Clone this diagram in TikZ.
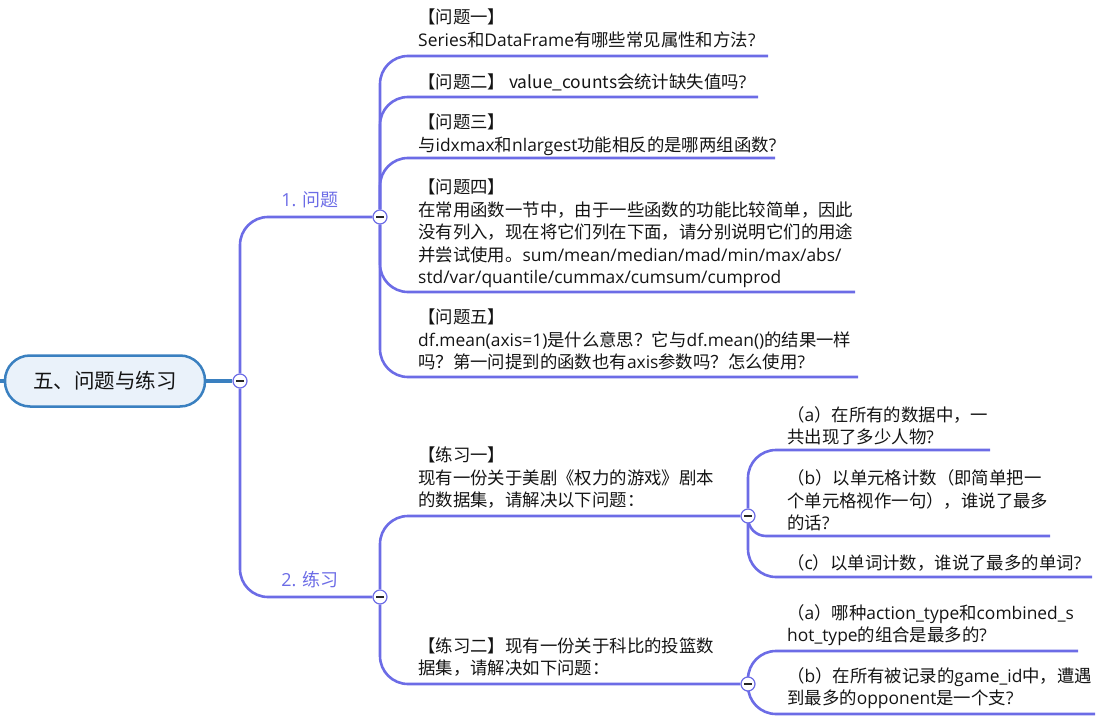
\documentclass[tikz,border=0pt]{standalone}
\usepackage{fontspec}
\setmainfont{Open Sans}
\newfontfamily\cjkf{Noto Sans CJK SC}
\newfontfamily\latf{Open Sans}
\usetikzlibrary{backgrounds}
\XeTeXinterchartokenstate=1
\newXeTeXintercharclass\cjkclass
\count255="3000
\loop \XeTeXcharclass\count255=\cjkclass \ifnum\count255<"9FFF \advance\count255 by 1 \repeat
\count255="FF00
\loop \XeTeXcharclass\count255=\cjkclass \ifnum\count255<"FFEF \advance\count255 by 1 \repeat
\XeTeXinterchartoks 0 \cjkclass = {\cjkf}
\XeTeXinterchartoks 4095 \cjkclass = {\cjkf}
\XeTeXinterchartoks \cjkclass 0 = {\latf}
\definecolor{brc}{RGB}{108,108,230}
\definecolor{rootb}{RGB}{58,128,192}
\definecolor{rootf}{RGB}{234,242,250}
\definecolor{txtc}{RGB}{20,20,20}
\begin{document}
\begin{tikzpicture}[x=1pt,y=-1pt,
  br/.style={draw=brc, line width=2.6pt, rounded corners=28pt},
  rootline/.style={draw=rootb, line width=3.5pt},
  txt/.style={anchor=base west, inner sep=0pt, align=left, text=txtc,
    font=\fontsize{17.4}{22.5}\selectfont},
  lbl/.style={anchor=base, inner sep=0pt, text=brc, font=\fontsize{18}{22}\selectfont},
  tog/.style={circle, draw=brc, fill=white, line width=1.2pt, minimum size=14pt, inner sep=0pt,
    path picture={\draw[line width=1.4pt, black!85] ([xshift=-3.6pt]path picture bounding box.center) -- ([xshift=3.6pt]path picture bounding box.center);}},
  rootbox/.style={draw=rootb, fill=rootf, line width=2.5pt, rounded corners=25pt,
    minimum width=200pt, minimum height=51pt, inner sep=0pt, text=txtc,
    font=\fontsize{20.5}{24}\selectfont}]
\useasboundingbox (0,0) rectangle (1105,722);

% root
\node[rootbox] (root) at (105,381) {五、问题与练习};
\coordinate (lft) at (0,381);

% toggles
\node[tog] (rc) at (240,381) {};
\node[tog] (qc) at (380,217) {};
\node[tog] (xc) at (380,597) {};
\node[tog] (e1) at (748,516) {};
\node[tog] (e2) at (748,684) {};

% labels
\node[lbl] (l1) at (310,206.5) {1. 问题};
\node[lbl] (l2) at (310,586.5) {2. 练习};

% question texts (anchor = baseline of last line)
\node[txt] (t1) at (418,46.5) {【问题一】\\Series和DataFrame有哪些常见属性和方法?};
\node[txt] (t2) at (418,88.5) {【问题二】 value\_counts会统计缺失值吗?};
\node[txt] (t3) at (418,151.5) {【问题三】\\与idxmax和nlargest功能相反的是哪两组函数?};
\node[txt] (t4) at (418,283.5) {【问题四】\\在常用函数一节中，由于一些函数的功能比较简单，因此\\没有列入，现在将它们列在下面，请分别说明它们的用途\\并尝试使用。sum/mean/median/mad/min/max/abs/\\std/var/quantile/cummax/cumsum/cumprod};
\node[txt] (t5) at (418,368.5) {【问题五】\\df.mean(axis=1)是什么意思？它与df.mean()的结果一样\\吗？第一问提到的函数也有axis参数吗？怎么使用?};

% exercise texts
\node[txt] (x1) at (418,506.5) {【练习一】\\现有一份关于美剧《权力的游戏》剧本\\的数据集，请解决以下问题：};
\node[txt] (x2) at (418,674.5) {【练习二】现有一份关于科比的投篮数\\据集，请解决如下问题：};

\node[txt] (a1t) at (787,443.5) {（a）在所有的数据中，一\\共出现了多少人物?};
\node[txt] (b1t) at (787,529.5) {（b）以单元格计数（即简单把一\\个单元格视作一句），谁说了最多\\的话?};
\node[txt] (c1t) at (787,569.5) {（c）以单词计数，谁说了最多的单词?};
\node[txt] (a2t) at (787,641.5) {（a）哪种action\_type和combined\_s\\hot\_type的组合是最多的?};
\node[txt] (b2t) at (787,704.5) {（b）在所有被记录的game\_id中，遭遇\\到最多的opponent是一个支?};

% underline ends
\coordinate (u1) at (768,56);
\coordinate (u2) at (758,97);
\coordinate (u3) at (775,158);
\coordinate (u4) at (855,292);
\coordinate (u5) at (858,377);
\coordinate (a1) at (990,450);
\coordinate (b1) at (1050,536);
\coordinate (c1) at (1092,577);
\coordinate (a2) at (1078,651);
\coordinate (b2) at (1095,714);

\begin{scope}[on background layer]
\draw[rootline] (lft) -- (root);
\draw[rootline] (root) -- (rc);
\draw[br] (rc) |- (qc);
\draw[br] (rc) |- (xc);
\draw[br] (qc) |- (u1);
\draw[br] (qc) |- (u2);
\draw[br] (qc) |- (u3);
\draw[br] (qc) |- (u4);
\draw[br] (qc) |- (u5);
\draw[br] (xc) |- (e1);
\draw[br] (xc) |- (e2);
\draw[br] (e1) |- (a1);
\draw[br, rounded corners=18pt] (e1) |- (b1);
\draw[br] (e1) |- (c1);
\draw[br] (e2) |- (a2);
\draw[br] (e2) |- (b2);
\end{scope}
\end{tikzpicture}
\end{document}
